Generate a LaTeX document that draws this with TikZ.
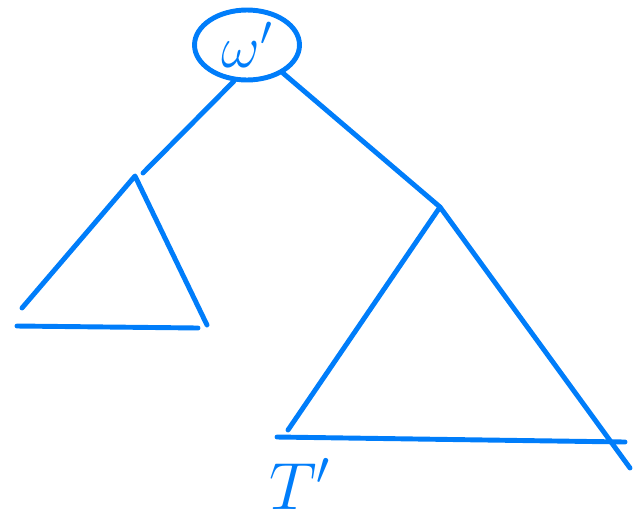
\RequirePackage{fix-cm}
\documentclass[tikz,border=0pt]{standalone}
\usepackage{amsmath, tikz}
\usetikzlibrary{shapes.geometric}
\definecolor{pen}{RGB}{0,125,250}

\begin{document}
\begin{tikzpicture}[x=0.02cm, y=-0.02cm, line width=2.8pt, line cap=round, line join=round]
  \useasboundingbox (0,0) rectangle (642,525);
  \tikzset{sketch/.style={draw=pen}}
  \node[sketch, ellipse, inner sep=0pt, minimum width=2.1cm, minimum height=1.4cm, text=pen] (root) at (247,45) {\fontsize{34}{38}\selectfont $\omega'$};
  \coordinate (lefttop) at (135,176);
  \coordinate (leftbl) at (22,308);
  \coordinate (leftbr) at (207,325);
  \coordinate (rightop) at (440,207);
  \coordinate (rightbl) at (288,430);
  \coordinate (rightbr) at (630,468);
  \node[text=pen] (tname) at (300,484) {\fontsize{38}{42}\selectfont $T'$};
  \draw[sketch] (root.250) -- (143,173);
  \draw[sketch] (root.-38) -- (rightop);
  \draw[sketch] (leftbl) -- (lefttop) -- (leftbr);
  \draw[sketch] (17,326) -- (198,328);
  \draw[sketch] (rightbl) -- (rightop) -- (rightbr);
  \draw[sketch] (277,437) -- (625,442);
\end{tikzpicture}
\end{document}
